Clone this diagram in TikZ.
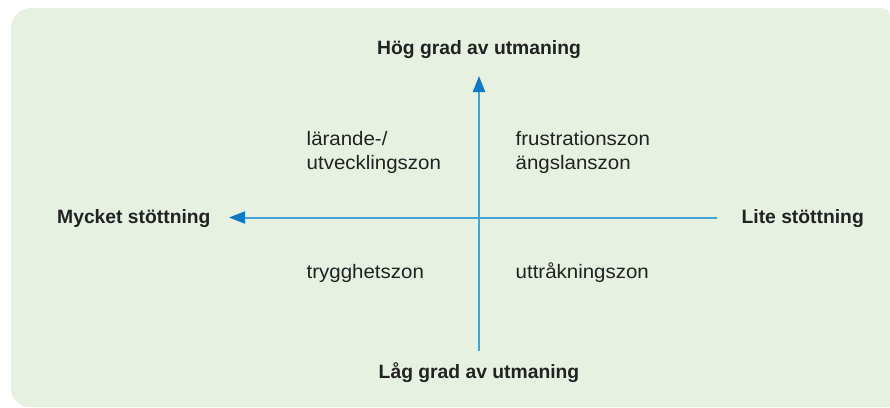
\documentclass[tikz,border=0pt]{standalone}
\usepackage{fontspec}
\setmainfont{Liberation Sans}
\newfontfamily\zonefont{Liberation Sans}[FakeStretch=1.05]
\usetikzlibrary{arrows.meta}

\definecolor{panelgreen}{RGB}{230,241,226}
\definecolor{axisblue}{RGB}{70,162,210}
\definecolor{tipblue}{RGB}{12,121,200}
\definecolor{inkgray}{RGB}{34,34,34}

\tikzset{
  axis/.style={draw=axisblue, line width=2pt,
    -{Triangle[length=16pt, width=12pt, color=tipblue]}},
  polelabel/.style={font=\fontsize{19.3}{24}\selectfont\bfseries, text=inkgray, inner sep=0pt},
  zonelabel/.style={font=\zonefont\fontsize{19.5}{24}\selectfont, text=inkgray, inner sep=0pt,
    align=left, anchor=base west},
}

\begin{document}
\begin{tikzpicture}[x=1pt, y=-1pt]
  \useasboundingbox (0,0) rectangle (890,407);

  % background panel
  \fill[panelgreen] (11,28) arc[start angle=180, end angle=270, radius=20]
    -- (880,8) .. controls (886,8) and (890,10) .. (890,16)
    -- (890,407) -- (29,407) arc[start angle=90, end angle=180, radius=18] -- cycle;

  % axis end points
  \coordinate (bottom) at (479,351);
  \coordinate (top) at (479,76);
  \coordinate (right) at (717,217.5);
  \coordinate (left) at (229,217.5);

  \draw[axis] (bottom) -- (top);
  \draw[axis] (right) -- (left);

  % pole labels
  \node[polelabel, anchor=base] (high) at (479,54) {Hög grad av utmaning};
  \node[polelabel, anchor=base] (low) at (479,378) {Låg grad av utmaning};
  \node[polelabel, anchor=base west] (much) at (57,223) {Mycket stöttning};
  \node[polelabel, anchor=base east] (little) at (864,223) {Lite stöttning};

  % quadrant labels (base anchor sits on the last line)
  \node[zonelabel] (learn) at (306.5,169) {lärande-/\\utvecklingszon};
  \node[zonelabel] (frust) at (515.5,169) {frustrationszon\\ängslanszon};
  \node[zonelabel] (safe) at (306.5,278) {trygghetszon};
  \node[zonelabel] (bored) at (515.5,278) {uttråkningszon};
\end{tikzpicture}
\end{document}
